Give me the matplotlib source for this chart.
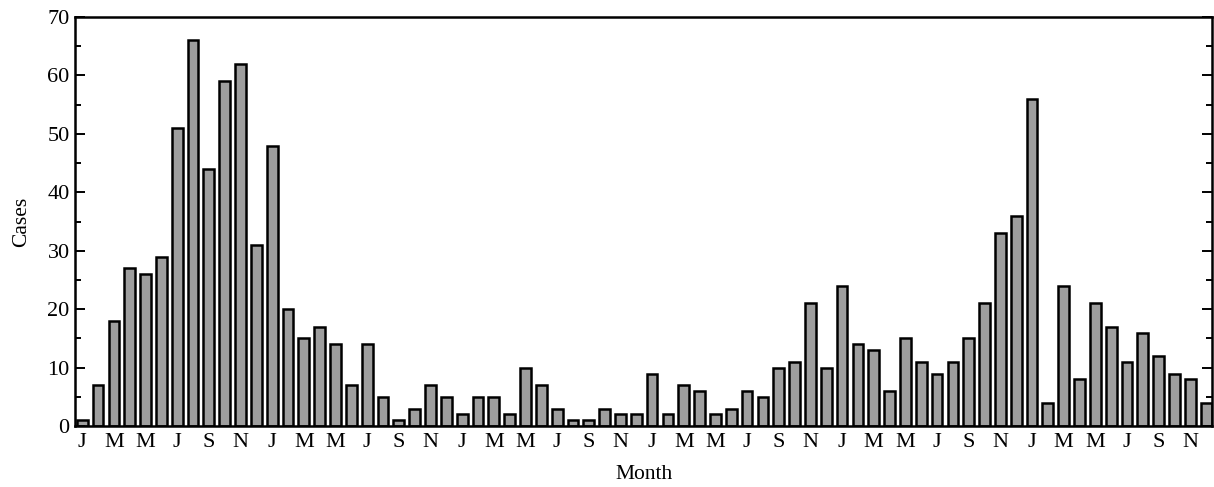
import matplotlib
matplotlib.use('Agg')
import matplotlib.pyplot as plt
import numpy as np

# monthly case counts, six years starting in January
cases = [
    1, 7, 18, 27, 26, 29, 51, 66, 44, 59, 62, 31,
    48, 20, 15, 17, 14, 7, 14, 5, 1, 3, 7, 5,
    2, 5, 5, 2, 10, 7, 3, 1, 1, 3, 2, 2,
    9, 2, 7, 6, 2, 3, 6, 5, 10, 11, 21, 10,
    24, 14, 13, 6, 15, 11, 9, 11, 15, 21, 33, 36,
    56, 4, 24, 8, 21, 17, 11, 16, 12, 9, 8, 4,
]
month_letters = ['J', 'F', 'M', 'A', 'M', 'J', 'J', 'A', 'S', 'O', 'N', 'D']

plt.rcParams['font.family'] = ['Liberation Serif', 'DejaVu Serif']

fig = plt.figure(figsize=(12.14, 4.87), dpi=100)
ax = fig.add_axes([0.062, 0.125, 0.9365, 0.84])

x = np.arange(len(cases))
ax.bar(x, cases, width=0.68, color='#9e9e9e', edgecolor='black', linewidth=1.8)

ax.set_xlim(-0.44, 71.38)
ax.set_ylim(0, 70)

tick_pos = x[::2]
ax.set_xticks(tick_pos)
ax.set_xticklabels([month_letters[i % 12] for i in tick_pos], fontsize=16)
ax.tick_params(axis='x', length=0, pad=5)

ax.set_yticks(np.arange(0, 71, 10))
ax.set_yticks(np.arange(0, 71, 5), minor=True)
ax.tick_params(axis='y', which='major', direction='in', length=7, width=1.4,
               labelsize=16, right=True, pad=4)
ax.tick_params(axis='y', which='minor', direction='in', length=4, width=1.4,
               right=True)

for s in ax.spines.values():
    s.set_linewidth(1.8)

ax.set_xlabel('Month', fontsize=15.5, labelpad=9)
ax.set_ylabel('Cases', fontsize=15.5, labelpad=12)

fig.savefig('out.png', dpi=100)
